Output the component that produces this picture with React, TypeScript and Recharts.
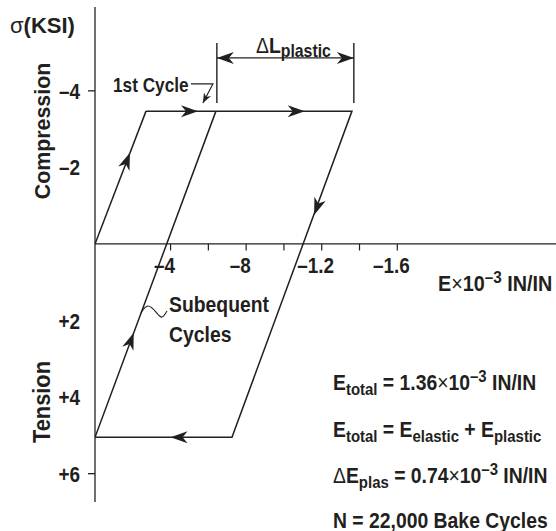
import React from 'react';
import { LineChart, Line, XAxis, YAxis, ReferenceLine } from 'recharts';

// ---- data ----
const strainTicks = [0.4, 0.6, 0.8, 1.0, 1.2, 1.4, 1.6];
const strainLabelValues = [0.4, 0.8, 1.2, 1.6];
const strainLabels = ['–4', '–8', '–1.2', '–1.6'];
const stressTicks = [-4, -2, 2, 4, 6];
const stressLabels = ['–4', '–2', '+2', '+4', '+6'];
const stressMarked = [-4, 6];

const firstCycle = [
  { x: 0, y: 0 },
  { x: 0.27, y: -3.47 },
];
const loop = [
  { x: 0.27, y: -3.47 },
  { x: 1.36, y: -3.47 },
  { x: 0.725, y: 5.05 },
  { x: 0, y: 5.05 },
  { x: 0.64, y: -3.47 },
];
// arrow tips, with the segment they travel along
const arrowTips = [
  { tip: { x: 0.185, y: -2.38 }, from: firstCycle[0], to: firstCycle[1] },
  { tip: { x: 0.545, y: -3.47 }, from: loop[0], to: loop[1] },
  { tip: { x: 1.11, y: -3.47 }, from: loop[0], to: loop[1] },
  { tip: { x: 1.16, y: -0.76 }, from: loop[1], to: loop[2] },
  { tip: { x: 0.4, y: 5.05 }, from: loop[2], to: loop[3] },
  { tip: { x: 0.205, y: 2.32 }, from: loop[3], to: loop[4] },
];
const firstCyclePointer = [
  { x: 0.508, y: -4.18 },
  { x: 0.624, y: -4.18 },
  { x: 0.571, y: -3.68 },
];
const subsequentLeader = [
  { x: 0.243, y: 1.8 },
  { x: 0.28, y: 1.62 },
  { x: 0.323, y: 1.78 },
  { x: 0.354, y: 1.91 },
  { x: 0.381, y: 1.75 },
];
const plasticBounds = [0.645, 1.37];
const plasticBoundTop = -5.25;
const plasticBoundBottom = -3.68;
const plasticArrowY = -4.86;

const INK = '#231f20';
const FONT = "'Liberation Sans', Arial, Helvetica, sans-serif";

function T({ x, y, size = 21, anchor = 'start', rot = 0, weight = 700, sx = 0.82, children }: any) {
  return (
    <text
      transform={`translate(${x},${y}) rotate(${rot}) scale(${sx},1)`}
      textAnchor={anchor}
      fontSize={size}
      fontWeight={weight}
      fontFamily={FONT}
      fill={INK}
    >
      {children}
    </text>
  );
}

const YTick = (props: any) => {
  const { x, y, payload } = props;
  const v = payload.value;
  const i = stressTicks.indexOf(v);
  return (
    <g>
      {stressMarked.includes(v) && (
        <line x1={x - 7} x2={x} y1={y} y2={y} stroke={INK} strokeWidth={1.3} />
      )}
      <T x={x - 15} y={y + 8} size={22} sx={0.86} anchor="end">
        {stressLabels[i]}
      </T>
    </g>
  );
};

const XTickLabel = (props: any) => {
  const vb = props.viewBox || {};
  const x = vb.x ?? vb.x1 ?? 0;
  const y = vb.y ?? vb.y1 ?? 0;
  return (
    <T x={x - 6} y={y + 29} size={22} sx={0.86} anchor="middle">
      {props.text}
    </T>
  );
};

export default function App() {
  return (
    <div style={{ position: 'absolute', left: 0, top: 0, background: '#fff' }}>
      <LineChart width={556} height={531} margin={{ top: 7, right: 0, bottom: 29, left: 0 }}>
        <defs>
          <marker id="ah" markerUnits="userSpaceOnUse" markerWidth={19} markerHeight={14}
            viewBox="-18 -7 19 14" refX={0} refY={0} orient="auto" overflow="visible">
            <path d="M0,0 L-17,-6 L-12,0 L-17,6 Z" fill={INK} />
          </marker>
          <marker id="ah2" markerUnits="userSpaceOnUse" markerWidth={19} markerHeight={14}
            viewBox="-18 -7 19 14" refX={0} refY={0} orient="auto-start-reverse" overflow="visible">
            <path d="M0,0 L-17,-6 L-12,0 L-17,6 Z" fill={INK} />
          </marker>
          <marker id="ahs" markerUnits="userSpaceOnUse" markerWidth={12} markerHeight={10}
            viewBox="-11 -5 12 10" refX={0} refY={0} orient="auto" overflow="visible">
            <path d="M0,0 L-10,-4 L-7,0 L-10,4 Z" fill={INK} />
          </marker>
        </defs>
        <XAxis type="number" dataKey="x" domain={[0, 2.44]} hide allowDataOverflow />
        <YAxis
          type="number"
          domain={[-6.19, 6.74]}
          reversed
          ticks={stressTicks}
          interval={0}
          width={95}
          tickSize={0}
          tickMargin={0}
          tickLine={false}
          axisLine={{ stroke: INK, strokeWidth: 1.3 }}
          tick={<YTick />}
          allowDataOverflow
        />
        <ReferenceLine y={0} stroke={INK} strokeWidth={1.3} />
        {strainTicks.map((v) => {
          const li = strainLabelValues.indexOf(v);
          return (
            <ReferenceLine
              key={'t' + v}
              segment={[{ x: v, y: 0 }, { x: v, y: 0.17 }]}
              stroke={INK}
              strokeWidth={1.2}
              label={li >= 0 ? <XTickLabel text={strainLabels[li]} /> : undefined}
            />
          );
        })}
        {plasticBounds.map((v) => (
          <ReferenceLine
            key={'pb' + v}
            segment={[{ x: v, y: plasticBoundTop }, { x: v, y: plasticBoundBottom }]}
            stroke={INK}
            strokeWidth={1.4}
          />
        ))}
        <Line data={firstCycle} dataKey="y" type="linear" stroke={INK} strokeWidth={1.5} dot={false} isAnimationActive={false} />
        <Line data={loop} dataKey="y" type="linear" stroke={INK} strokeWidth={1.5} dot={false} isAnimationActive={false} />
        {arrowTips.map((a, i) => {
          const tail = {
            x: a.tip.x - 0.03 * (a.to.x - a.from.x),
            y: a.tip.y - 0.03 * (a.to.y - a.from.y),
          };
          return (
            <Line key={'a' + i} data={[tail, a.tip]} dataKey="y" type="linear" stroke="none"
              dot={false} isAnimationActive={false} markerEnd="url(#ah)" />
          );
        })}
        <Line data={firstCyclePointer} dataKey="y" type="linear" stroke={INK} strokeWidth={1.2}
          dot={false} isAnimationActive={false} markerEnd="url(#ahs)" />
        <Line data={[{ x: plasticBounds[0], y: plasticArrowY }, { x: plasticBounds[1], y: plasticArrowY }]}
          dataKey="y" type="linear" stroke={INK} strokeWidth={1.4} dot={false} isAnimationActive={false}
          markerStart="url(#ah2)" markerEnd="url(#ah2)" />
        <Line data={subsequentLeader} dataKey="y" type="natural" stroke={INK} strokeWidth={1.1}
          dot={false} isAnimationActive={false} />

        <T x={10} y={33} size={22} sx={1.0}>
          <tspan fontWeight={400}>σ</tspan>(KSI)
        </T>
        <T x={50} y={131} size={23} sx={0.93} rot={-90} anchor="middle">Compression</T>
        <T x={50} y={402} size={23} sx={0.95} rot={-90} anchor="middle">Tension</T>
        <T x={113} y={92} size={21}>1st Cycle</T>
        <T x={256} y={53} size={22} sx={0.88}>
          <tspan fontWeight={400}>Δ</tspan>L<tspan fontSize={18} dy={4}>plastic</tspan>
        </T>
        <T x={438} y={291} size={22} sx={0.9}>
          E<tspan fontWeight={400}>×</tspan>10<tspan fontSize={17} dy={-8}>–3</tspan>
          <tspan dy={8}> IN/IN</tspan>
        </T>
        <T x={169} y={312} size={22} sx={0.88}>Subequent</T>
        <T x={169} y={342} size={22} sx={0.88}>Cycles</T>

        <T x={333} y={390} size={22} sx={0.88}>
          E<tspan fontSize={17} dy={5}>total</tspan>
          <tspan dy={-5}> = 1.36</tspan><tspan fontWeight={400}>×</tspan>10
          <tspan fontSize={17} dy={-8}>–3</tspan><tspan dy={8}> IN/IN</tspan>
        </T>
        <T x={333} y={437} size={22} sx={0.88}>
          E<tspan fontSize={17} dy={5}>total</tspan>
          <tspan dy={-5}> = E</tspan><tspan fontSize={17} dy={5}>elastic</tspan>
          <tspan dy={-5}> + E</tspan><tspan fontSize={17} dy={5}>plastic</tspan>
        </T>
        <T x={333} y={483} size={22} sx={0.88}>
          <tspan fontWeight={400}>Δ</tspan>E<tspan fontSize={17} dy={5}>plas</tspan>
          <tspan dy={-5}> = 0.74</tspan><tspan fontWeight={400}>×</tspan>10
          <tspan fontSize={17} dy={-8}>–3</tspan><tspan dy={8}> IN/IN</tspan>
        </T>
        <T x={333} y={528} size={22} sx={0.88}>N = 22,000 Bake Cycles</T>
      </LineChart>
    </div>
  );
}
